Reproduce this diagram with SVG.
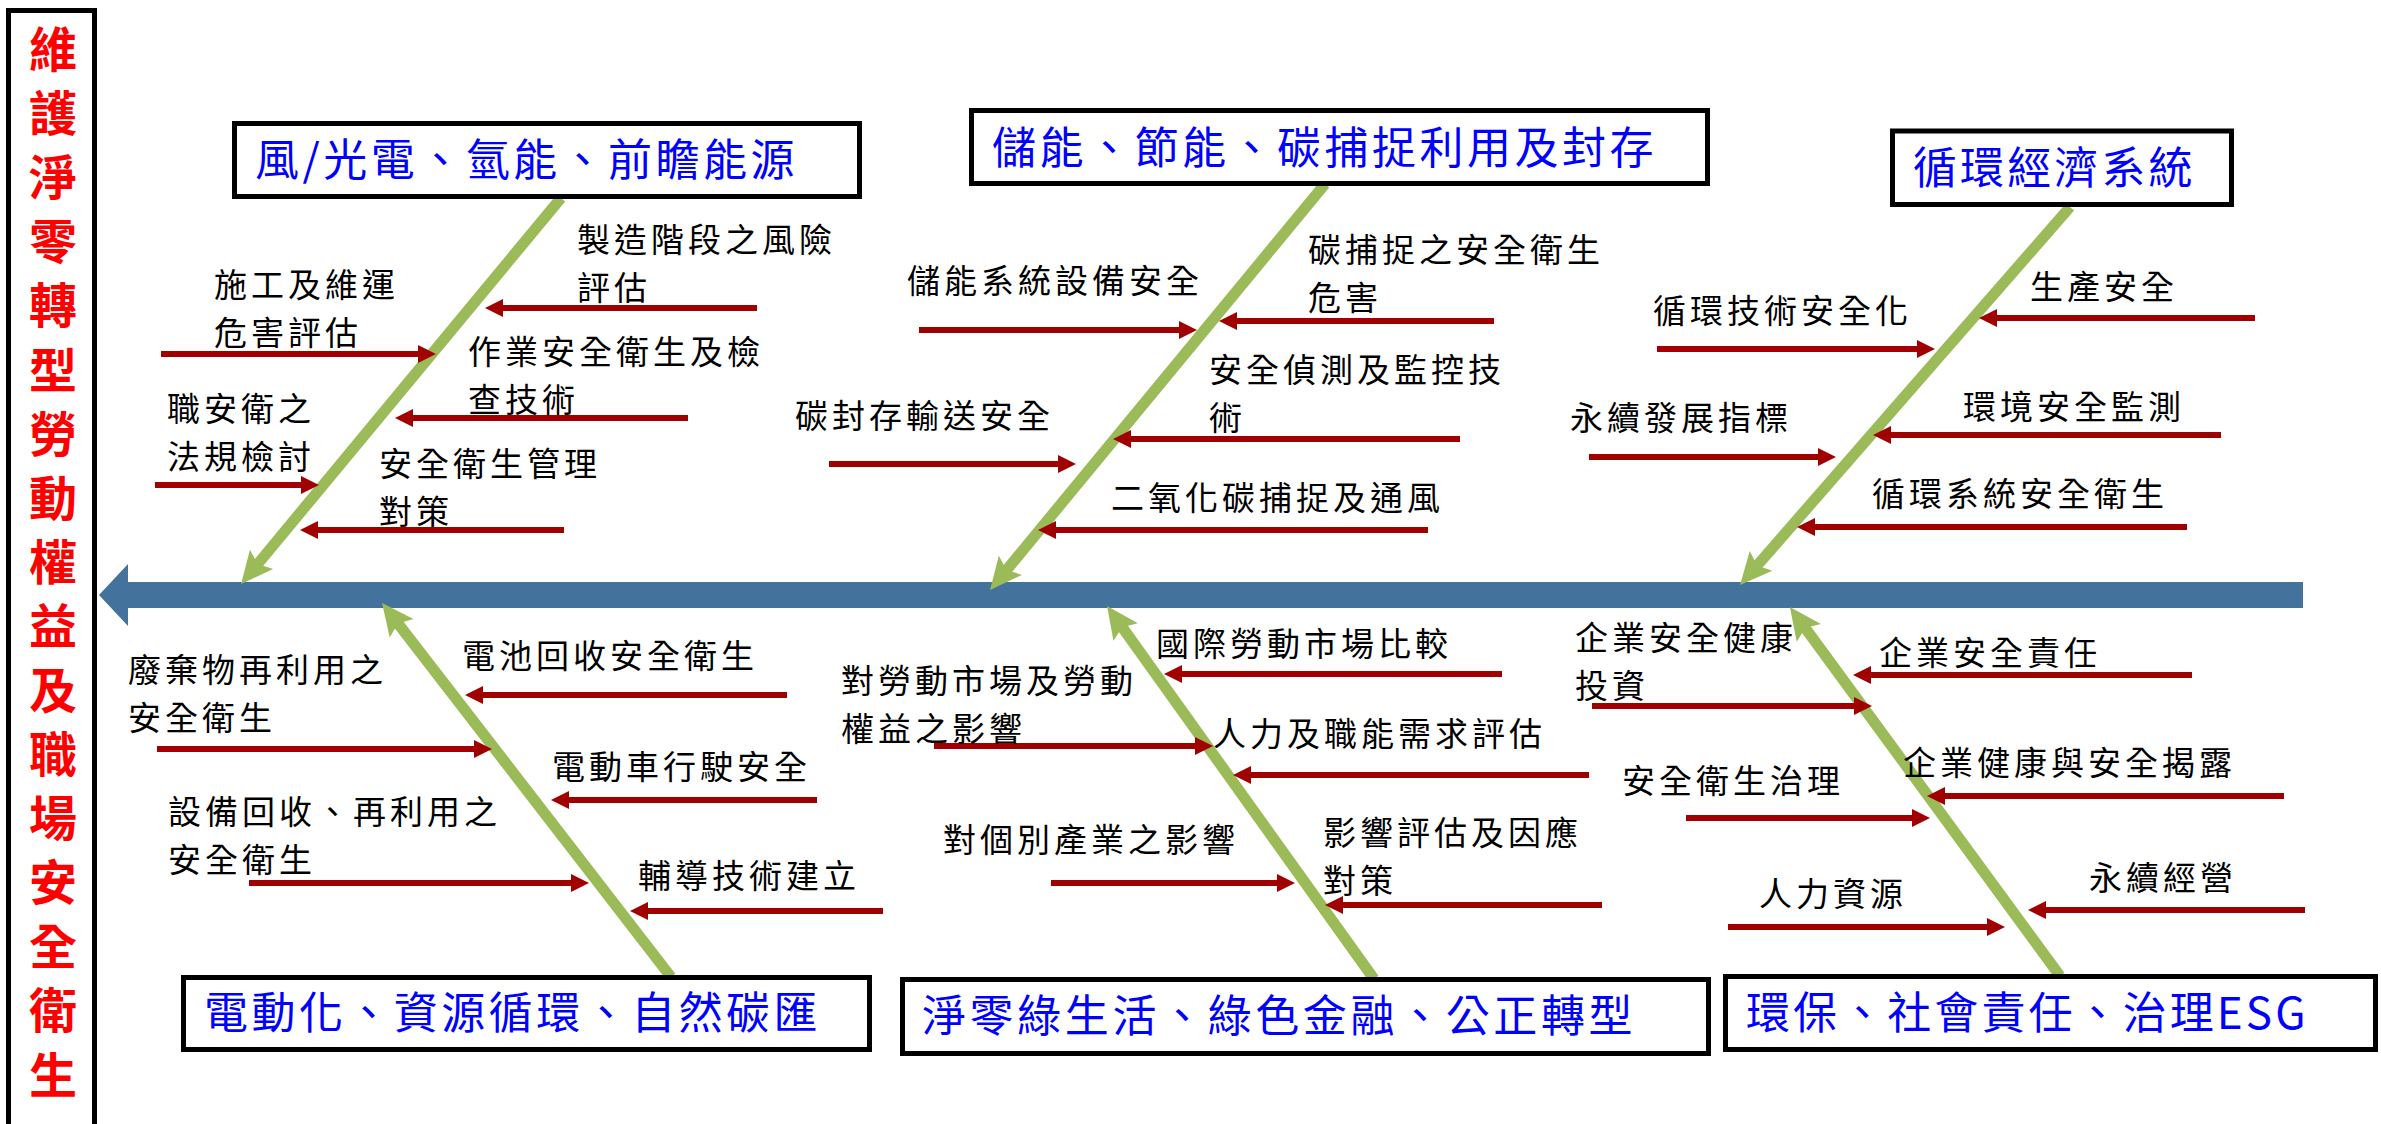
<svg xmlns="http://www.w3.org/2000/svg" width="2381" height="1124" viewBox="0 0 2381 1124">
<style>
.box{fill:#fff;stroke:#000;stroke-width:5}
.head{font-family:"Noto Sans CJK TC","Noto Sans CJK SC",sans-serif;font-size:44px;fill:#0000FF;letter-spacing:3.5px}
.lbl{font-family:"Noto Sans CJK TC","Noto Sans CJK SC",sans-serif;font-size:33px;fill:#000;letter-spacing:4px}
.title{font-family:"Noto Sans CJK TC","Noto Sans CJK SC",sans-serif;font-size:48px;font-weight:bold;fill:#FF0000;text-anchor:middle}
.bone{stroke:#9BBB59;stroke-width:11;fill:none;marker-end:url(#gh)}
.red{stroke:#A00000;stroke-width:6;fill:none;marker-end:url(#rh)}
</style>
<defs>
<marker id="gh" markerUnits="userSpaceOnUse" orient="auto" refX="0" refY="0" markerWidth="60" markerHeight="60" viewBox="-30 -30 60 60" overflow="visible">
<path d="M-8,-15 L24,0 L-8,15 L-2,0 Z" fill="#9BBB59"/>
</marker>
<marker id="rh" markerUnits="userSpaceOnUse" orient="auto" refX="0" refY="0" markerWidth="40" markerHeight="40" viewBox="-20 -20 40 40" overflow="visible">
<path d="M-6,-9 L12,0 L-6,9 Z" fill="#A00000"/>
</marker>
</defs>
<rect width="2381" height="1124" fill="#fff"/>

<g id="title">
<rect x="8.5" y="10.5" width="86" height="1125" fill="#fff" stroke="#000" stroke-width="5"/>
<text class="title" x="53">
<tspan x="53" y="67">維</tspan><tspan x="53" dy="64.1">護</tspan><tspan x="53" dy="64.1">淨</tspan><tspan x="53" dy="64.1">零</tspan><tspan x="53" dy="64.1">轉</tspan><tspan x="53" dy="64.1">型</tspan><tspan x="53" dy="64.1">勞</tspan><tspan x="53" dy="64.1">動</tspan><tspan x="53" dy="64.1">權</tspan><tspan x="53" dy="64.1">益</tspan><tspan x="53" dy="64.1">及</tspan><tspan x="53" dy="64.1">職</tspan><tspan x="53" dy="64.1">場</tspan><tspan x="53" dy="64.1">安</tspan><tspan x="53" dy="64.1">全</tspan><tspan x="53" dy="64.1">衛</tspan><tspan x="53" dy="64.1">生</tspan>
</text>
</g>

<g id="spine">
<polygon points="99,595 128,564 128,582 2303,582 2303,608 128,608 128,626" fill="#43729D"/>
</g>

<g id="connectors">
<line class="bone" x1="561" y1="198" x2="256.4" y2="565.6"/>
<line class="bone" x1="1325" y1="184" x2="1005.3" y2="571.5"/>
<line class="bone" x1="2070" y1="207" x2="1755.8" y2="567"/>
<line class="bone" x1="671" y1="977" x2="396.7" y2="621.9"/>
<line class="bone" x1="1374" y1="979" x2="1121" y2="625.5"/>
<line class="bone" x1="2060" y1="976" x2="1804.1" y2="626.4"/>

<line class="red" x1="757" y1="308" x2="497" y2="308"/>
<line class="red" x1="688" y1="418" x2="407" y2="418"/>
<line class="red" x1="564" y1="530" x2="312" y2="530"/>
<line class="red" x1="161" y1="354" x2="424" y2="354"/>
<line class="red" x1="155" y1="485" x2="307" y2="485"/>

<line class="red" x1="919" y1="330" x2="1185" y2="330"/>
<line class="red" x1="829" y1="464" x2="1064" y2="464"/>
<line class="red" x1="1494" y1="321" x2="1231" y2="321"/>
<line class="red" x1="1460" y1="439" x2="1125" y2="439"/>
<line class="red" x1="1428" y1="530" x2="1050" y2="530"/>

<line class="red" x1="1657" y1="349" x2="1923" y2="349"/>
<line class="red" x1="1589" y1="457" x2="1824" y2="457"/>
<line class="red" x1="2255" y1="318" x2="1991" y2="318"/>
<line class="red" x1="2221" y1="435" x2="1885" y2="435"/>
<line class="red" x1="2187" y1="527" x2="1809" y2="527"/>

<line class="red" x1="787" y1="695" x2="477" y2="695"/>
<line class="red" x1="817" y1="800" x2="563" y2="800"/>
<line class="red" x1="883" y1="911" x2="642" y2="911"/>
<line class="red" x1="157" y1="749" x2="480" y2="749"/>
<line class="red" x1="249" y1="883" x2="577" y2="883"/>

<line class="red" x1="934" y1="746" x2="1201" y2="746"/>
<line class="red" x1="1051" y1="883" x2="1283" y2="883"/>
<line class="red" x1="1502" y1="674" x2="1176" y2="674"/>
<line class="red" x1="1589" y1="775" x2="1245" y2="775"/>
<line class="red" x1="1602" y1="905" x2="1337" y2="905"/>

<line class="red" x1="1592" y1="706" x2="1860" y2="706"/>
<line class="red" x1="1686" y1="818" x2="1918" y2="818"/>
<line class="red" x1="1728" y1="927" x2="1993" y2="927"/>
<line class="red" x1="2192" y1="675" x2="1865" y2="675"/>
<line class="red" x1="2284" y1="796" x2="1939" y2="796"/>
<line class="red" x1="2305" y1="910" x2="2040" y2="910"/>
</g>

<g id="head-a">
<rect class="box" x="234.5" y="123.5" width="625" height="73"/>
<text class="head" x="255" y="176" textLength="543">風/光電、氫能、前瞻能源</text>
</g>
<g id="head-b">
<rect class="box" x="971.5" y="110.5" width="736" height="73"/>
<text class="head" x="992" y="164" textLength="665">儲能、節能、碳捕捉利用及封存</text>
</g>
<g id="head-c">
<rect class="box" x="1892.5" y="131" width="339" height="73.5"/>
<text class="head" x="1913" y="184" textLength="283">循環經濟系統</text>
</g>
<g id="head-d">
<rect class="box" x="183.5" y="977.5" width="686" height="72"/>
<text class="head" x="204" y="1029" textLength="617">電動化、資源循環、自然碳匯</text>
</g>
<g id="head-e">
<rect class="box" x="902.5" y="979.5" width="806" height="74"/>
<text class="head" x="922" y="1032" textLength="714">淨零綠生活、綠色金融、公正轉型</text>
</g>
<g id="head-f">
<rect class="box" x="1725.5" y="976.5" width="650" height="73"/>
<text class="head" x="1746" y="1029" textLength="563">環保、社會責任、治理ESG</text>
</g>

<g id="cause-a1"><text class="lbl"><tspan x="577" y="252">製造階段之風險</tspan><tspan x="577" y="300">評估</tspan></text></g>
<g id="cause-a2"><text class="lbl"><tspan x="468" y="363.5">作業安全衛生及檢</tspan><tspan x="468" y="411.5">查技術</tspan></text></g>
<g id="cause-a3"><text class="lbl"><tspan x="379" y="475.5">安全衛生管理</tspan><tspan x="379" y="523.5">對策</tspan></text></g>
<g id="cause-a4"><text class="lbl"><tspan x="214" y="296.5">施工及維運</tspan><tspan x="214" y="344.5">危害評估</tspan></text></g>
<g id="cause-a5"><text class="lbl"><tspan x="167" y="421">職安衛之</tspan><tspan x="167" y="469">法規檢討</tspan></text></g>

<g id="cause-b1"><text class="lbl" x="907" y="293">儲能系統設備安全</text></g>
<g id="cause-b2"><text class="lbl" x="795" y="427.5">碳封存輸送安全</text></g>
<g id="cause-b3"><text class="lbl"><tspan x="1308" y="262">碳捕捉之安全衛生</tspan><tspan x="1308" y="310">危害</tspan></text></g>
<g id="cause-b4"><text class="lbl"><tspan x="1209" y="381.5">安全偵測及監控技</tspan><tspan x="1209" y="429.5">術</tspan></text></g>
<g id="cause-b5"><text class="lbl" x="1111" y="509.5">二氧化碳捕捉及通風</text></g>

<g id="cause-c1"><text class="lbl" x="1653" y="322.5">循環技術安全化</text></g>
<g id="cause-c2"><text class="lbl" x="1570" y="429.5">永續發展指標</text></g>
<g id="cause-c3"><text class="lbl" x="2030" y="299">生產安全</text></g>
<g id="cause-c4"><text class="lbl" x="1963" y="418.5">環境安全監測</text></g>
<g id="cause-c5"><text class="lbl" x="1872" y="506">循環系統安全衛生</text></g>

<g id="cause-d1"><text class="lbl" x="462" y="668">電池回收安全衛生</text></g>
<g id="cause-d2"><text class="lbl" x="552" y="778.5">電動車行駛安全</text></g>
<g id="cause-d3"><text class="lbl" x="638" y="888">輔導技術建立</text></g>
<g id="cause-d4"><text class="lbl"><tspan x="128" y="681.5">廢棄物再利用之</tspan><tspan x="128" y="729.5">安全衛生</tspan></text></g>
<g id="cause-d5"><text class="lbl"><tspan x="168" y="823.5">設備回收、再利用之</tspan><tspan x="168" y="871.5">安全衛生</tspan></text></g>

<g id="cause-e1"><text class="lbl"><tspan x="841" y="693">對勞動市場及勞動</tspan><tspan x="841" y="741">權益之影響</tspan></text></g>
<g id="cause-e2"><text class="lbl" x="943" y="852">對個別產業之影響</text></g>
<g id="cause-e3"><text class="lbl" x="1156" y="656">國際勞動市場比較</text></g>
<g id="cause-e4"><text class="lbl" x="1213" y="746">人力及職能需求評估</text></g>
<g id="cause-e5"><text class="lbl"><tspan x="1323" y="845">影響評估及因應</tspan><tspan x="1323" y="893">對策</tspan></text></g>

<g id="cause-f1"><text class="lbl"><tspan x="1575" y="650">企業安全健康</tspan><tspan x="1575" y="698">投資</tspan></text></g>
<g id="cause-f2"><text class="lbl" x="1622" y="793">安全衛生治理</text></g>
<g id="cause-f3"><text class="lbl" x="1759" y="905.5">人力資源</text></g>
<g id="cause-f4"><text class="lbl" x="1879" y="665">企業安全責任</text></g>
<g id="cause-f5"><text class="lbl" x="1903" y="775">企業健康與安全揭露</text></g>
<g id="cause-f6"><text class="lbl" x="2089" y="890">永續經營</text></g>
</svg>
